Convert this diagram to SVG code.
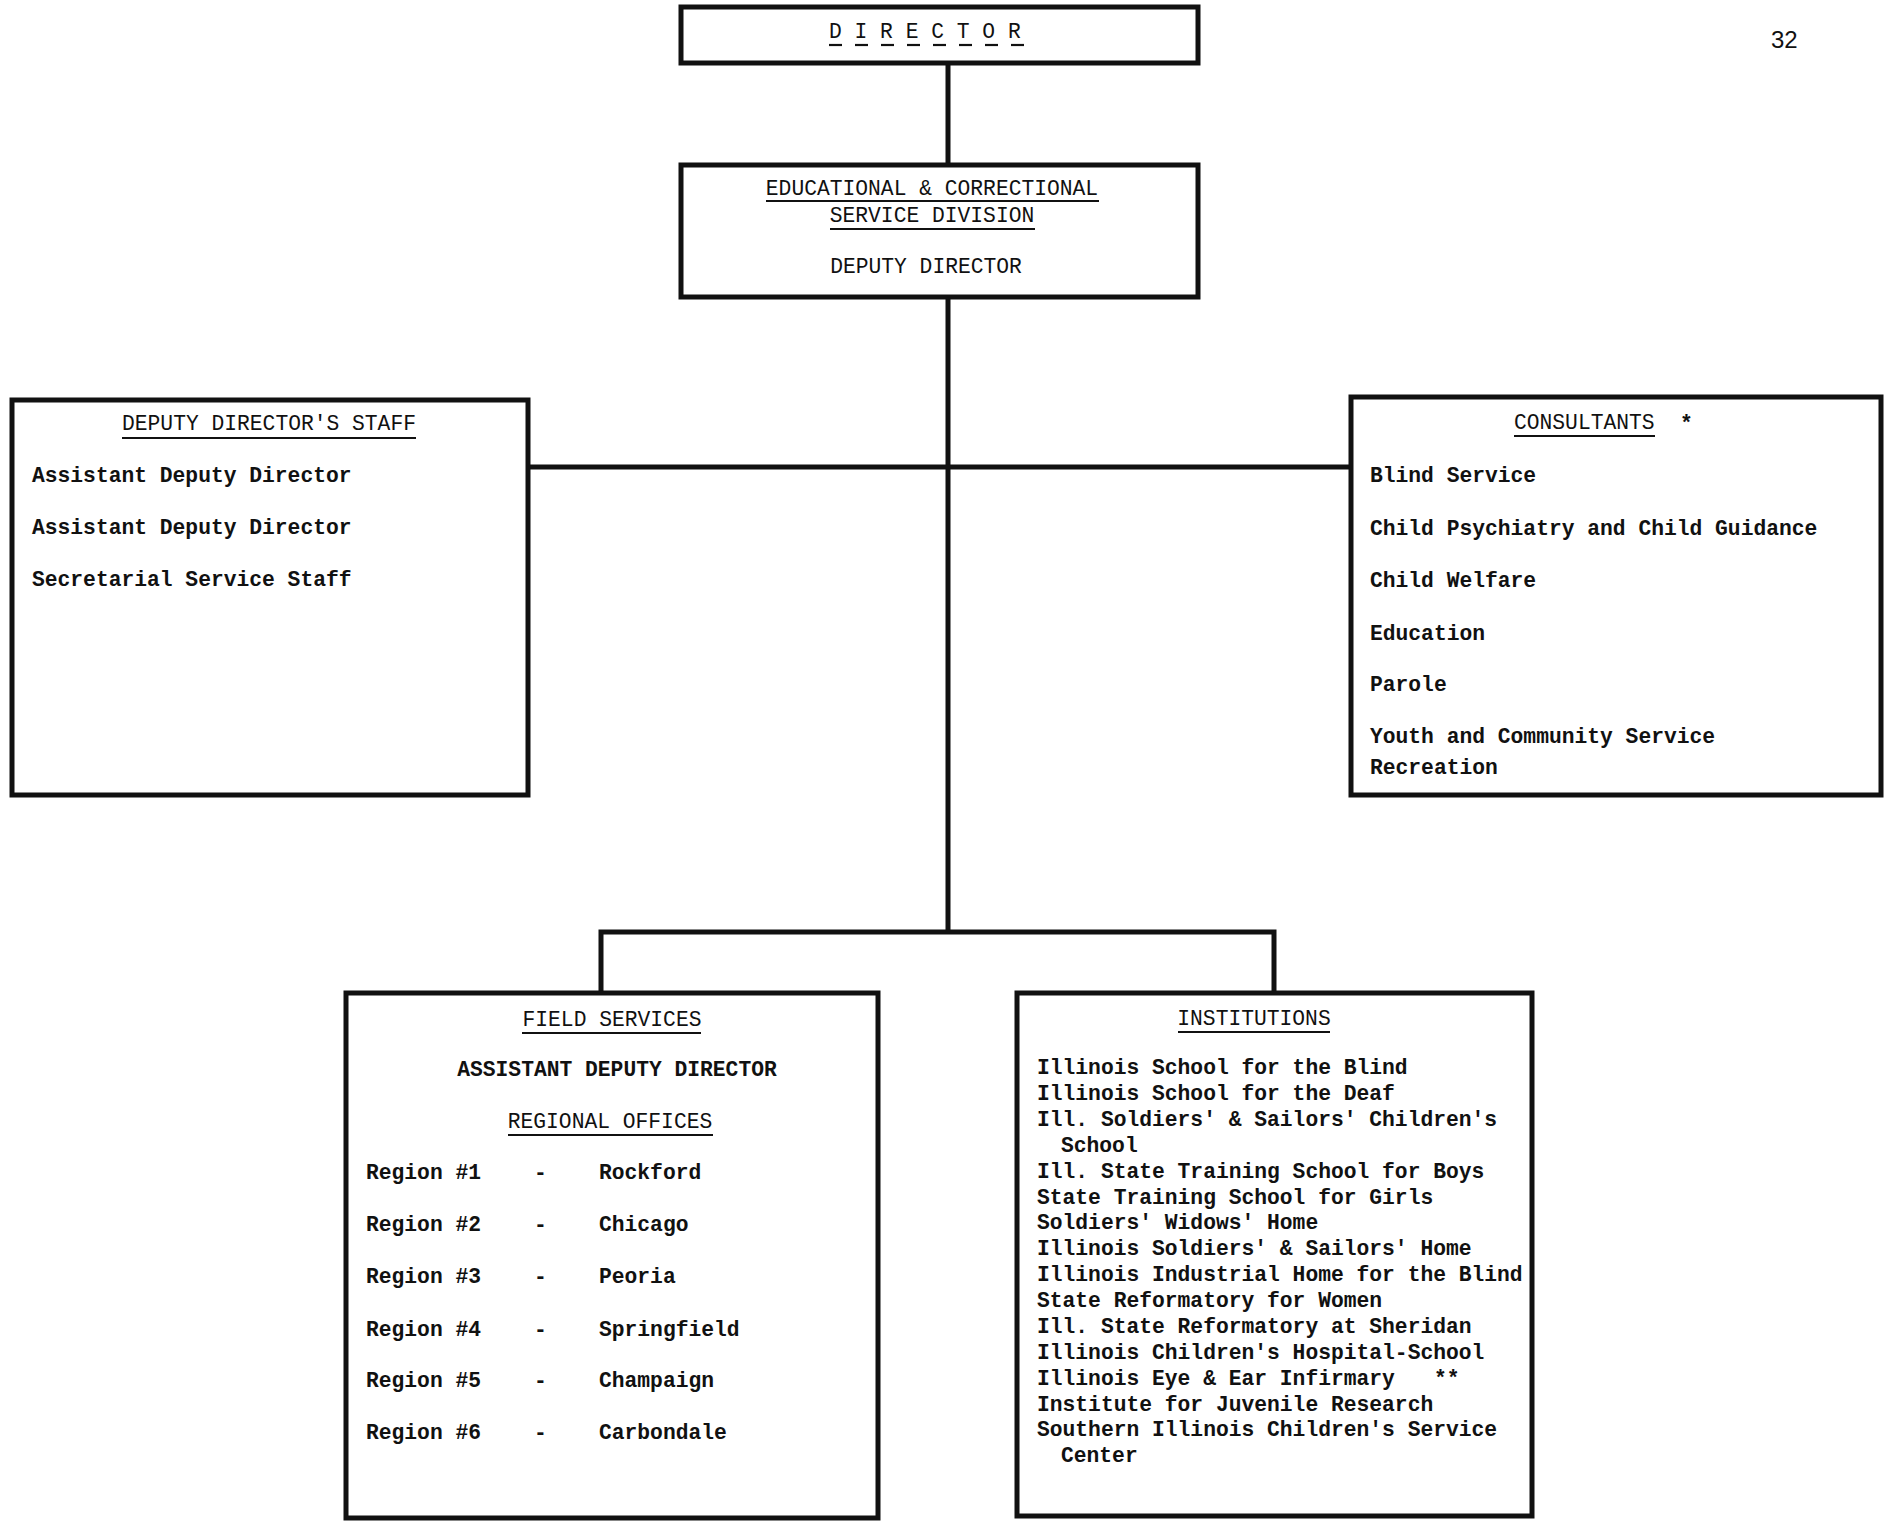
<svg xmlns="http://www.w3.org/2000/svg" width="1891" height="1525" viewBox="0 0 1891 1525">
<style>
.box{fill:#fff;stroke:#111;stroke-width:5}
.con{stroke:#111;stroke-width:5;fill:none}
.ul{stroke:#111;stroke-width:2.2}
.h{font-family:"Liberation Mono","DejaVu Sans Mono",monospace;font-size:21.3px;fill:#111}
.b{font-family:"Liberation Mono","DejaVu Sans Mono",monospace;font-size:21.3px;font-weight:bold;fill:#111}
.c{text-anchor:middle}
.pg{font-family:"Liberation Sans",Arial,sans-serif;font-size:24px;fill:#111}
</style>
<rect width="1891" height="1525" fill="#fff"/>
<g id="connectors">
<line class="con" x1="948" y1="63" x2="948" y2="934"/>
<line class="con" x1="528" y1="467" x2="1351" y2="467"/>
<polyline class="con" points="601,993 601,932 1274,932 1274,993"/>
</g>
<g id="director">
<rect class="box" x="681" y="7" width="517" height="56"/>
<text class="h" x="829" y="38">D I R E C T O R</text>
<g class="ul">
<line x1="829" y1="45" x2="842" y2="45"/><line x1="855" y1="45" x2="868" y2="45"/>
<line x1="881" y1="45" x2="894" y2="45"/><line x1="907" y1="45" x2="920" y2="45"/>
<line x1="933" y1="45" x2="946" y2="45"/><line x1="959" y1="45" x2="972" y2="45"/>
<line x1="985" y1="45" x2="998" y2="45"/><line x1="1011" y1="45" x2="1024" y2="45"/>
</g>
</g>
<g id="deputy-director">
<rect class="box" x="681" y="165" width="517" height="132"/>
<text class="h c" x="932" y="195">EDUCATIONAL &amp; CORRECTIONAL</text>
<line class="ul" x1="766" y1="201" x2="1099" y2="201"/>
<text class="h c" x="932" y="222">SERVICE DIVISION</text>
<line class="ul" x1="830" y1="229" x2="1035" y2="229"/>
<text class="h c" x="926" y="273">DEPUTY DIRECTOR</text>
</g>
<g id="deputy-directors-staff">
<rect class="box" x="12" y="400" width="516" height="395"/>
<text class="h c" x="269" y="430">DEPUTY DIRECTOR'S STAFF</text>
<line class="ul" x1="122" y1="438" x2="416" y2="438"/>
<text class="b" x="32" y="482">Assistant Deputy Director</text>
<text class="b" x="32" y="534">Assistant Deputy Director</text>
<text class="b" x="32" y="586">Secretarial Service Staff</text>
</g>
<g id="consultants">
<rect class="box" x="1351" y="397" width="530" height="398"/>
<text class="h" x="1514" y="429">CONSULTANTS</text>
<line class="ul" x1="1514" y1="436" x2="1655" y2="436"/>
<text class="b" x="1680" y="430">*</text>
<text class="b" x="1370" y="482">Blind Service</text>
<text class="b" x="1370" y="535">Child Psychiatry and Child Guidance</text>
<text class="b" x="1370" y="587">Child Welfare</text>
<text class="b" x="1370" y="640">Education</text>
<text class="b" x="1370" y="691">Parole</text>
<text class="b" x="1370" y="743">Youth and Community Service</text>
<text class="b" x="1370" y="774">Recreation</text>
</g>
<g id="field-services">
<rect class="box" x="346" y="993" width="532" height="525"/>
<text class="h c" x="612" y="1026">FIELD SERVICES</text>
<line class="ul" x1="522" y1="1033" x2="701" y2="1033"/>
<text class="b c" x="617" y="1076">ASSISTANT DEPUTY DIRECTOR</text>
<text class="h c" x="610" y="1128">REGIONAL OFFICES</text>
<line class="ul" x1="508" y1="1135" x2="713" y2="1135"/>
<text class="b" x="366" y="1179">Region #1</text><text class="b" x="534" y="1179">-</text><text class="b" x="599" y="1179">Rockford</text>
<text class="b" x="366" y="1231">Region #2</text><text class="b" x="534" y="1231">-</text><text class="b" x="599" y="1231">Chicago</text>
<text class="b" x="366" y="1283">Region #3</text><text class="b" x="534" y="1283">-</text><text class="b" x="599" y="1283">Peoria</text>
<text class="b" x="366" y="1336">Region #4</text><text class="b" x="534" y="1336">-</text><text class="b" x="599" y="1336">Springfield</text>
<text class="b" x="366" y="1387">Region #5</text><text class="b" x="534" y="1387">-</text><text class="b" x="599" y="1387">Champaign</text>
<text class="b" x="366" y="1439">Region #6</text><text class="b" x="534" y="1439">-</text><text class="b" x="599" y="1439">Carbondale</text>
</g>
<g id="institutions">
<rect class="box" x="1017" y="993" width="515" height="523"/>
<text class="h c" x="1254" y="1025">INSTITUTIONS</text>
<line class="ul" x1="1178" y1="1032" x2="1330" y2="1032"/>
<text class="b" x="1037" y="1074">Illinois School for the Blind</text>
<text class="b" x="1037" y="1100">Illinois School for the Deaf</text>
<text class="b" x="1037" y="1126">Ill. Soldiers' &amp; Sailors' Children's</text>
<text class="b" x="1061" y="1152">School</text>
<text class="b" x="1037" y="1178">Ill. State Training School for Boys</text>
<text class="b" x="1037" y="1204">State Training School for Girls</text>
<text class="b" x="1037" y="1229">Soldiers' Widows' Home</text>
<text class="b" x="1037" y="1255">Illinois Soldiers' &amp; Sailors' Home</text>
<text class="b" x="1037" y="1281">Illinois Industrial Home for the Blind</text>
<text class="b" x="1037" y="1307">State Reformatory for Women</text>
<text class="b" x="1037" y="1333">Ill. State Reformatory at Sheridan</text>
<text class="b" x="1037" y="1359">Illinois Children's Hospital-School</text>
<text class="b" x="1037" y="1385">Illinois Eye &amp; Ear Infirmary</text>
<text class="b" x="1434" y="1385">**</text>
<text class="b" x="1037" y="1411">Institute for Juvenile Research</text>
<text class="b" x="1037" y="1436">Southern Illinois Children's Service</text>
<text class="b" x="1061" y="1462">Center</text>
</g>
<text class="pg" x="1771" y="48">32</text>
</svg>
